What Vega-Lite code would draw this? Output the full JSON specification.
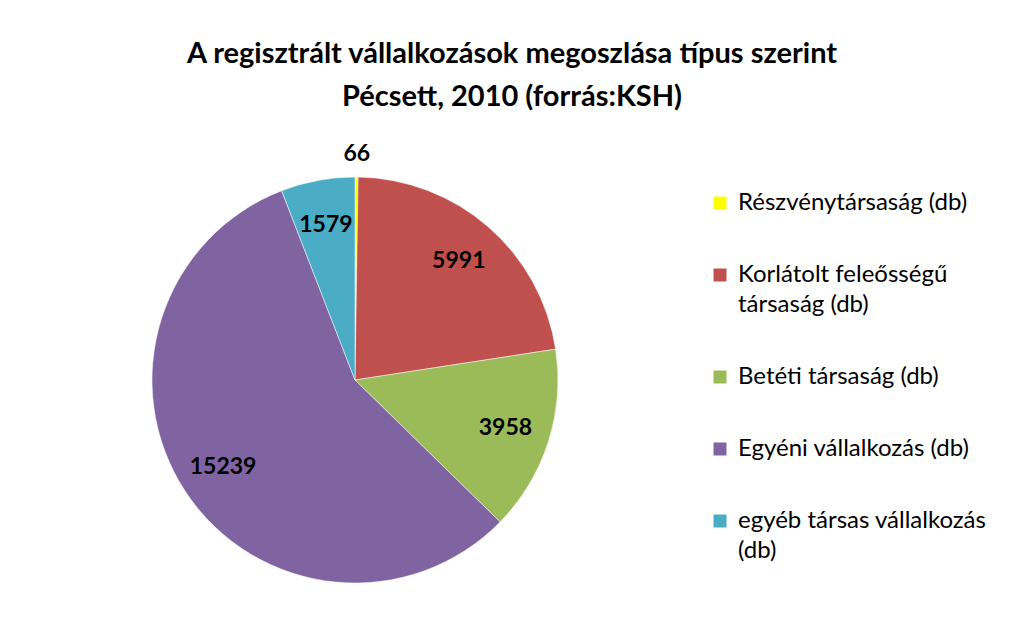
{
  "$schema": "https://vega.github.io/schema/vega-lite/v6.json",
  "autosize": "none",
  "width": 406,
  "height": 406,
  "padding": {"left": 152, "top": 177, "right": 452, "bottom": 55},
  "background": "white",
  "title": {
    "text": ["A regisztrált vállalkozások  megoszlása típus szerint", "Pécsett, 2010 (forrás:KSH)"],
    "font": "Lato",
    "fontSize": 29,
    "fontWeight": "bold",
    "color": "black",
    "lineHeight": 43,
    "anchor": "middle",
    "dx": 157,
    "offset": 31
  },
  "config": {
    "view": {"stroke": null},
    "style": {"guide-label": {"lineHeight": 30}}
  },
  "data": {
    "values": [
      {"kategoria": "Részvénytársaság (db)", "ertek": 66, "sorrend": 1},
      {"kategoria": "Korlátolt feleősségű társaság (db)", "ertek": 5991, "sorrend": 2},
      {"kategoria": "Betéti társaság (db)", "ertek": 3958, "sorrend": 3},
      {"kategoria": "Egyéni vállalkozás (db)", "ertek": 15239, "sorrend": 4},
      {"kategoria": "egyéb társas vállalkozás (db)", "ertek": 1579, "sorrend": 5}
    ]
  },
  "encoding": {
    "theta": {"field": "ertek", "type": "quantitative", "stack": true},
    "order": {"field": "sorrend", "type": "quantitative"}
  },
  "layer": [
    {
      "mark": {"type": "arc", "radius": 203, "stroke": "white", "strokeWidth": 0.5},
      "encoding": {
        "color": {
          "field": "kategoria",
          "type": "nominal",
          "scale": {
            "domain": ["Részvénytársaság (db)", "Korlátolt feleősségű társaság (db)", "Betéti társaság (db)", "Egyéni vállalkozás (db)", "egyéb társas vállalkozás (db)"],
            "range": ["#FFFF00", "#C0504D", "#9BBB59", "#8064A2", "#4BACC6"]
          },
          "legend": {
            "title": null,
            "orient": "none",
            "legendX": 556,
            "legendY": 14,
            "symbolType": "square",
            "symbolSize": 169,
            "symbolStrokeWidth": 0,
            "labelFont": "Lato",
            "labelFontSize": 24,
            "labelColor": "black",
            "labelOffset": 6,
            "labelLimit": 400,
            "rowPadding": 48,
            "padding": 0,
            "labelExpr": "datum.label == 'Korlátolt feleősségű társaság (db)' ? ['Korlátolt feleősségű', 'társaság (db)'] : datum.label == 'egyéb társas vállalkozás (db)' ? ['egyéb társas vállalkozás', '(db)'] : datum.label"
          }
        }
      }
    },
    {
      "mark": {"type": "text", "radius": 158, "font": "Lato", "fontSize": 23, "fontWeight": "bold", "color": "black"},
      "encoding": {
        "text": {"condition": {"test": "datum.ertek >= 100", "field": "ertek", "type": "quantitative", "format": "d"}, "value": ""}
      }
    },
    {
      "mark": {"type": "text", "radius": 226, "font": "Lato", "fontSize": 23, "fontWeight": "bold", "color": "black"},
      "encoding": {
        "text": {"condition": {"test": "datum.ertek < 100", "field": "ertek", "type": "quantitative", "format": "d"}, "value": ""}
      }
    }
  ]
}
